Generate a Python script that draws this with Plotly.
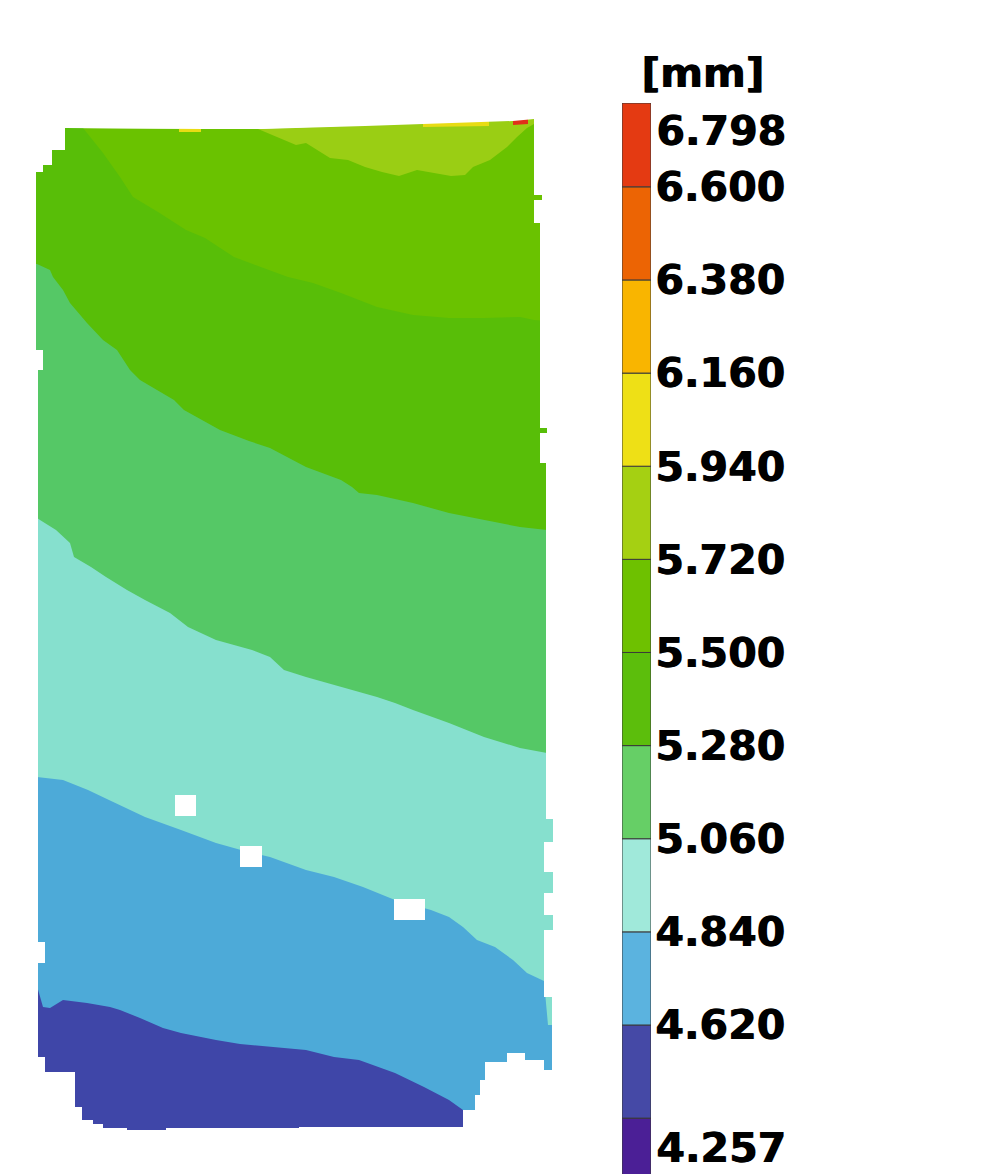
import plotly.graph_objects as go

# ---------------------------------------------------------------------------
# Contour levels [mm] and colours of the legend bar (bottom to top)
# ---------------------------------------------------------------------------
levels = [4.257, 4.40, 4.62, 4.84, 5.06, 5.28, 5.50, 5.72, 5.94, 6.16, 6.38, 6.60, 6.798]
legend_colors = ["#4B1F96", "#4549A6", "#5BB3DF", "#A0E9DA", "#66CF66", "#5CBE0C",
                 "#6EC100", "#A5D012", "#EEE016", "#F9B500", "#EC6404", "#E43A12"]
# same bands as they appear on the lit specimen surface
surface_colors = ["#4B1F96", "#3F46A8", "#4DAAD8", "#86E0CE", "#55C866", "#58BE08",
                  "#6AC200", "#9ACE14", "#E8DC14", "#F5B000", "#E8600A", "#E0301A"]
labelled_levels = [4.62, 4.84, 5.06, 5.28, 5.50, 5.72, 5.94, 6.16, 6.38, 6.60]
unit_label = "[mm]"

# ---------------------------------------------------------------------------
# Specimen outline (surface grid units, y downwards)
# ---------------------------------------------------------------------------
outline_x = [65, 203, 261, 365, 513, 534,
             534, 542, 542, 534, 534, 540,
             540, 547, 547, 540, 540, 546,
             546, 553, 553, 544, 544, 553, 553, 544, 544, 553, 553, 544, 544, 552,
             552, 544, 544, 525, 525, 507, 507, 485, 485, 480, 480, 475, 475, 463, 463,
             299, 299, 166, 166, 127, 127, 103, 103, 93, 93, 82, 82, 75, 75, 45, 45, 38,
             38, 45, 45, 38, 38, 43, 43, 36, 36, 43, 43, 52, 52, 65, 65]
outline_y = [128, 129, 129, 126, 121, 119,
             195, 195, 200, 200, 223, 223,
             428, 428, 433, 433, 463, 463,
             819, 819, 842, 842, 872, 872, 893, 893, 915, 915, 930, 930, 997, 997,
             1070, 1070, 1060, 1060, 1053, 1053, 1062, 1062, 1080, 1080, 1095, 1095, 1110, 1110, 1127,
             1127, 1128, 1128, 1130, 1130, 1128, 1128, 1124, 1124, 1120, 1120, 1107, 1107, 1072, 1072, 1057, 1057,
             963, 963, 942, 942, 370, 370, 350, 350, 172, 172, 165, 165, 150, 150, 128]

# ---------------------------------------------------------------------------
# Iso-lines separating the bands
# ---------------------------------------------------------------------------
iso_572_x = [258, 296, 306, 330, 348, 365, 382, 399, 417, 434, 451, 465, 473, 490, 507, 517, 527, 534, 534]
iso_572_y = [129, 145, 143, 158, 160, 167, 172, 176, 170, 173, 176, 175, 167, 160, 147, 137, 128, 124, 119]

iso_550_x = [83, 103, 120, 133, 158, 186, 205, 234, 260, 288, 313, 341, 377, 413, 449, 484, 520, 534, 547]
iso_550_y = [128, 153, 177, 197, 212, 230, 238, 257, 267, 277, 283, 293, 307, 315, 318, 318, 317, 320, 321]

iso_528_x = [37, 50, 53, 63, 70, 87, 103, 117, 130, 140, 174, 184, 220, 249, 270, 306, 341, 352, 359,
             377, 413, 449, 484, 520, 547]
iso_528_y = [264, 270, 277, 290, 303, 323, 340, 350, 370, 380, 400, 410, 430, 441, 448, 467, 480, 487, 493,
             495, 503, 513, 520, 527, 530]

iso_506_x = [37, 40, 56, 70, 74, 91, 106, 127, 145, 170, 188, 216, 252, 270, 284, 306, 341, 377, 395,
             413, 449, 484, 520, 547]
iso_506_y = [518, 520, 530, 543, 557, 567, 577, 590, 600, 613, 627, 640, 650, 657, 670, 677, 687, 697, 703,
             710, 723, 737, 748, 753]

iso_484_x = [37, 63, 88, 109, 145, 181, 216, 241, 270, 306, 334, 363, 395, 431, 449, 463, 477, 495, 513,
             527, 544, 548]
iso_484_y = [777, 780, 790, 800, 817, 830, 843, 850, 857, 870, 877, 887, 900, 910, 917, 927, 940, 947, 960,
             973, 981, 1025]

iso_462_x = [37, 43, 50, 63, 87, 110, 120, 140, 163, 181, 216, 240, 270, 306, 334, 359, 395, 424, 449,
             463, 466]
iso_462_y = [986, 1007, 1008, 1000, 1003, 1007, 1010, 1018, 1028, 1033, 1040, 1044, 1047, 1050, 1057,
             1060, 1073, 1087, 1100, 1110, 1118]

# small high-value spots along the upper edge: (band index, x list, y list)
spots = [
    (8, [179, 201, 201, 179], [128, 128, 132, 132]),
    (8, [423, 489, 489, 423], [122, 121, 126, 127]),
    (11, [513, 528, 528, 513], [120, 119, 124, 125]),
]

# cells without measurement data
gap_x0 = [175, 240, 394]
gap_x1 = [196, 262, 425]
gap_y0 = [795, 846, 899]
gap_y1 = [816, 867, 920]

# ---------------------------------------------------------------------------
W, H = 981, 1174
MAP_W = 600
FONT = dict(family="DejaVu Sans", size=41, color="black", weight="bold",
            shadow="1px 0px 0px #000")

fig = go.Figure()


def band(xs, ys, color):
    fig.add_trace(go.Scatter(x=xs, y=ys, mode="lines", fill="toself", fillcolor=color,
                             line=dict(width=0, color=color), hoverinfo="skip",
                             showlegend=False, xaxis="x", yaxis="y"))


def below(xs, ys):
    """Close an iso-line with the region underneath it."""
    bx = [-10] + list(xs) + [MAP_W + 10, MAP_W + 10, -10]
    by = [ys[0]] + list(ys) + [ys[-1], H + 10, H + 10]
    return bx, by


def band_index(lo):
    return levels.index(lo)


# base layer: whole surface in the 5.50-5.72 band
band(outline_x, outline_y, surface_colors[band_index(5.50)])
# 5.72-5.94 patch at the upper right
band(iso_572_x, iso_572_y, surface_colors[band_index(5.72)])
for idx, sx, sy in spots:
    band(sx, sy, surface_colors[idx])
# lower bands, painted top to bottom
for (ix, iy), lo in [((iso_550_x, iso_550_y), 5.28), ((iso_528_x, iso_528_y), 5.06),
                     ((iso_506_x, iso_506_y), 4.84), ((iso_484_x, iso_484_y), 4.62),
                     ((iso_462_x, iso_462_y), 4.40)]:
    bx, by = below(ix, iy)
    band(bx, by, surface_colors[band_index(lo)])


# white mask outside the specimen outline (frame with outline hole)
def signed_area(xs, ys):
    n = len(xs)
    return sum(xs[i] * ys[(i + 1) % n] - xs[(i + 1) % n] * ys[i] for i in range(n)) / 2


frame_x = [-10, MAP_W + 10, MAP_W + 10, -10, -10]
frame_y = [-10, -10, H + 10, H + 10, -10]
ox, oy = list(outline_x), list(outline_y)
if (signed_area(ox, oy) > 0) == (signed_area(frame_x[:-1], frame_y[:-1]) > 0):
    ox, oy = ox[::-1], oy[::-1]
mask_x = frame_x + ox + [ox[0], frame_x[0]]
mask_y = frame_y + oy + [oy[0], frame_y[0]]
fig.add_trace(go.Scatter(x=mask_x, y=mask_y, mode="lines", fill="toself", fillcolor="white",
                         line=dict(width=0, color="white"), hoverinfo="skip", showlegend=False,
                         xaxis="x", yaxis="y"))

for x0, x1, y0, y1 in zip(gap_x0, gap_x1, gap_y0, gap_y1):
    fig.add_shape(type="rect", xref="x", yref="y", x0=x0, x1=x1, y0=y0, y1=y1,
                  fillcolor="white", line=dict(width=0), layer="above")

# ---------------------------------------------------------------------------
# Legend bar
# ---------------------------------------------------------------------------
fig.add_trace(go.Bar(
    x=[0] * (len(levels) - 1),
    base=levels[:-1],
    y=[levels[i + 1] - levels[i] for i in range(len(levels) - 1)],
    width=1,
    marker=dict(color=legend_colors, line=dict(color="#3a3a3a", width=1)),
    hoverinfo="skip", showlegend=False, xaxis="x2", yaxis="y2"))

cb_top = 1 - 103 / H
fig.update_layout(
    width=W, height=H,
    margin=dict(l=0, r=0, t=0, b=0),
    paper_bgcolor="white", plot_bgcolor="white",
    showlegend=False,
    xaxis=dict(domain=[0, MAP_W / W], range=[0, MAP_W], visible=False, fixedrange=True),
    yaxis=dict(domain=[0, 1], range=[H, 0], visible=False, fixedrange=True),
    xaxis2=dict(domain=[622 / W, 651 / W], range=[-0.5, 0.5], visible=False, anchor="y2"),
    yaxis2=dict(domain=[0, cb_top], range=[4.268, levels[-1]], anchor="x2", side="right",
                showgrid=False, zeroline=False, showline=False, ticks="",
                tickvals=labelled_levels, ticktext=[f"{v:.3f}" for v in labelled_levels],
                tickfont=FONT, ticklabelstandoff=3),
)

# end values of the scale, written inside the bar ends
fig.add_annotation(xref="x2 domain", yref="y2 domain", x=1, y=1, xanchor="left", yanchor="top",
                   xshift=3, yshift=-2, text=f"{levels[-1]:.3f}", showarrow=False, font=FONT)
fig.add_annotation(xref="x2 domain", yref="y2 domain", x=1, y=0, xanchor="left", yanchor="bottom",
                   xshift=3, yshift=0, text=f"{levels[0]:.3f}", showarrow=False, font=FONT)
fig.add_annotation(xref="paper", yref="paper", x=639 / W, y=1 - 73 / H, xanchor="left",
                   yanchor="middle", text=unit_label, showarrow=False, font=FONT)

fig.write_html("out.html")
